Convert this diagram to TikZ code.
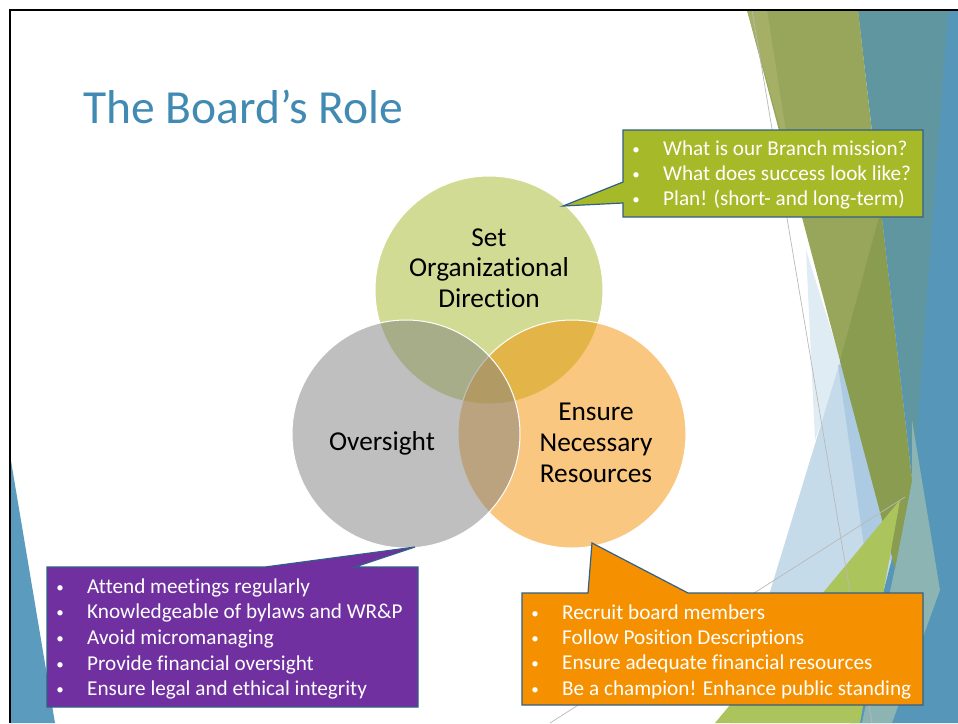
\documentclass[tikz,border=0pt]{standalone}
\usepackage{fontspec}
\setmainfont{Carlito}[Ligatures=NoCommon]
\definecolor{titleblue}{RGB}{65,138,180}
\definecolor{olive}{RGB}{152,166,92}
\definecolor{olivedark}{RGB}{138,156,80}
\definecolor{olivelight}{RGB}{165,176,102}
\definecolor{tealc}{RGB}{95,150,160}
\definecolor{bluec}{RGB}{85,150,185}
\definecolor{lblue}{RGB}{197,219,233}
\definecolor{pblue}{RGB}{224,236,244}
\definecolor{mblue}{RGB}{172,202,225}
\definecolor{grayteal}{RGB}{140,180,178}
\definecolor{lgreen}{RGB}{172,196,92}
\definecolor{wedge}{RGB}{90,155,190}
\definecolor{cgreen}{RGB}{166,185,40}
\definecolor{corange}{RGB}{245,145,0}
\definecolor{cgray}{RGB}{128,128,128}
\definecolor{cpurple}{RGB}{112,48,160}
\definecolor{cborder}{RGB}{50,95,135}
\definecolor{thinline}{RGB}{185,185,185}
\tikzset{
  circ/.style={circle, minimum size=228pt, inner sep=0pt, fill opacity=0.5, draw=white, line width=1pt},
  ctext/.style={font=\fontsize{27.3}{30}\selectfont, anchor=base, inner sep=0pt, text=black},
  bul/.style={font=\fontsize{15}{25}\selectfont, text=white, anchor=base, inner sep=0pt},
  ltext/.style={font=\fontsize{21.2}{25}\selectfont, text=white, anchor=base west, inner sep=0pt},
  callout/.style={draw=cborder, line width=1.2pt, line join=miter},
}
\begin{document}
\begin{tikzpicture}[x=1pt,y=-1pt]
\useasboundingbox (0,0) rectangle (958,723);
\fill[white] (0,0) rectangle (958,723);
% background decorations
\fill[pblue] (806,250) -- (842,365) -- (815,440) -- cycle;
\fill[lblue] (840,362) -- (905,560) -- (870,723) -- (730,723) -- cycle;
\fill[mblue] (838,365) -- (870,363) -- (900,560) -- (866,560) -- cycle;
\fill[bluec] (858,10) -- (958,10) -- (958,723) -- (850,723) -- (912,480) -- cycle;
\fill[tealc] (858,10) -- (948,10) -- (914,470) -- cycle;
\fill[grayteal] (912,420) -- (940,590) -- (892,723) -- (862,723) -- (895,568) -- (912,480) -- cycle;
\fill[olive] (747,10) -- (858,10) -- (912,480) -- (895,568) -- cycle;
\fill[olivedark] (881,210) -- (840,361) -- (895,568) -- (912,480) -- cycle;
\fill[olivelight] (747,10) -- (767,10) -- (792,170) -- cycle;
\fill[lgreen] (715,723) -- (900,500) -- (860,723) -- cycle;
\fill[wedge] (10,455) -- (10,723) -- (55,723) -- cycle;
\draw[thinline, line width=0.7pt] (752,10) -- (872,723);
\draw[thinline, line width=0.7pt] (550,723) -- (905,497);
% slide border
\draw[black, line width=2.5pt] (10,723) -- (10,10) -- (958,10);
% title
\node[anchor=base west, inner sep=0pt, text=titleblue, font=\fontsize{47.5}{50}\selectfont] (title) at (83,123) {The Board’s Role};
% Venn circles
\node[circ, fill=cgreen] (dir) at (489,290) {};
\node[circ, fill=corange] (res) at (572,434) {};
\node[circ, fill=cgray] (ovs) at (406,434) {};
\node[ctext] (d1) at (489,246) {Set};
\node[ctext] (d2) at (489,276) {Organizational};
\node[ctext] (d3) at (489,307) {Direction};
\node[ctext] (o1) at (382,450) {Oversight};
\node[ctext] (r1) at (596,420) {Ensure};
\node[ctext] (r2) at (596,451) {Necessary};
\node[ctext] (r3) at (596,482) {Resources};
% callouts
\filldraw[callout, fill=cgreen] (623,130) -- (923,130) -- (923,217) -- (623,217) -- (623,203) -- (563,206) -- (623,182) -- cycle;
\filldraw[callout, fill=cpurple] (47,567) -- (265,567) -- (415,547) -- (355,567) -- (418,567) -- (418,707) -- (47,707) -- cycle;
\filldraw[callout, fill=corange] (522,593) -- (588,593) -- (592,543) -- (688,593) -- (923,593) -- (923,705) -- (522,705) -- cycle;
\foreach \y/\t [count=\i] in {155/{What is our Branch mission?}, 180/{What does success look like?}, 205/{Plan! (short- and long-term)}} {
  \node[bul] (gb\i) at (636,\y-1) {•};
  \node[ltext] (gt\i) at (663,\y) {\t};
}
\foreach \y/\t [count=\i] in {593/{Attend meetings regularly}, 618/{Knowledgeable of bylaws and WR\&P}, 644/{Avoid micromanaging}, 670/{Provide financial oversight}, 695/{Ensure legal and ethical integrity}} {
  \node[bul] (pb\i) at (60,\y-1) {•};
  \node[ltext] (pt\i) at (87,\y) {\t};
}
\foreach \y/\t [count=\i] in {619/{Recruit board members}, 644/{Follow Position Descriptions}, 669/{Ensure adequate financial resources}, 695/{Be a champion! Enhance public standing}} {
  \node[bul] (ob\i) at (535,\y-1) {•};
  \node[ltext] (ot\i) at (562,\y) {\t};
}
\end{tikzpicture}
\end{document}
